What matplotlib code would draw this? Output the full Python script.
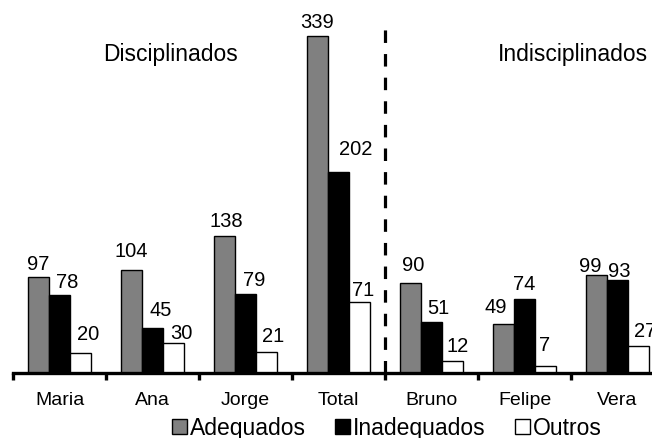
import matplotlib.pyplot as plt
import numpy as np

plt.rcParams['font.family'] = ['Liberation Sans', 'DejaVu Sans']
plt.rcParams['lines.scale_dashes'] = False

nomes = ['Maria', 'Ana', 'Jorge', 'Total', 'Bruno', 'Felipe', 'Vera']
adequados = [97, 104, 138, 339, 90, 49, 99]
inadequados = [78, 45, 79, 202, 51, 74, 93]
outros = [20, 30, 21, 71, 12, 7, 27]

series = [
    ('Adequados', adequados, '#808080'),
    ('Inadequados', inadequados, '#000000'),
    ('Outros', outros, '#ffffff'),
]

# ajuste manual dos rótulos (dx, dy em pixels a partir do topo da barra)
ajustes = [
    [(0, 8), (0, 14), (2, 10), (0, 9), (2.5, 13), (-8, 12), (-6, 4)],
    [(8, 8), (8, 13), (8.5, 9), (17, 18), (7, 9), (0, 10), (1.5, 4)],
    [(8, 14), (8, 5), (6.5, 11), (4, 7), (5, 10), (-1.5, 16), (7, 10)],
]

fig = plt.figure(figsize=(6.52, 4.39), dpi=100)
ax = fig.add_axes([0, 65 / 439, 1, 374 / 439])

x = np.arange(len(nomes))
w = 0.226
for i, (nome, vals, cor) in enumerate(series):
    pos = x + (i - 1) * w
    ax.bar(pos, vals, width=w, color=cor, edgecolor='black', linewidth=1, label=nome)
    for px, v, (dx, dy) in zip(pos, vals, ajustes[i]):
        ax.annotate(str(v), (px, v), xytext=(dx, dy), textcoords='offset pixels',
                    ha='center', va='baseline', fontsize=14.5)

# separa os dois grupos
ax.plot([3.5, 3.5], [0, 350], color='black', lw=2.3, ls=(0, (9, 8)))

ax.text(1.19, 321, 'Disciplinados', fontsize=16.5, ha='center', va='center')
ax.text(5.52, 321, 'Indisciplinados', fontsize=16.5, ha='center', va='center')

ax.set_xlim(-0.64, 6.37)
ax.set_ylim(0, 376)
ax.set_yticks([])
for s in ['top', 'right', 'left']:
    ax.spines[s].set_visible(False)
ax.spines['bottom'].set_linewidth(2.4)
ax.spines['bottom'].set_bounds(-0.5, 6.37)

ax.set_xticks(x)
ax.set_xticklabels(nomes, fontsize=14)
ax.tick_params(axis='x', which='major', length=0, pad=13)
ax.set_xticks(np.arange(-0.5, 6.5, 1), minor=True)
ax.tick_params(axis='x', which='minor', length=5, width=2.4, direction='out')

fig.legend(loc='center', bbox_to_anchor=(387 / 652, 1 - 429 / 439), ncol=3,
           frameon=False, fontsize=16.5, handlelength=0.65, handleheight=0.65,
           handletextpad=0.12, columnspacing=1.3, borderpad=0)

fig.savefig('out.png', dpi=100)
